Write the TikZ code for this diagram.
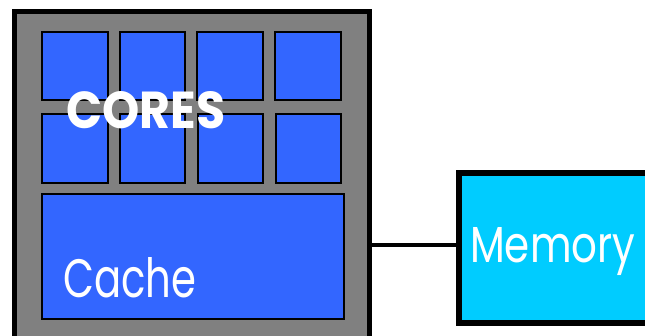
\documentclass[tikz,border=0pt]{standalone}
\usepackage{fontspec}
\setmainfont{Poppins}
\usepackage{graphicx}
\definecolor{coreblue}{HTML}{3366FF}
\definecolor{chipgray}{HTML}{808080}
\definecolor{memcyan}{HTML}{00CCFF}
\begin{document}
\begin{tikzpicture}[x=1pt,y=-1pt,
  corebox/.style={draw=black,line width=1.6pt,fill=coreblue},
  lbl/.style={text=white,inner sep=0pt,anchor=base west}]
\useasboundingbox (0,0) rectangle (645,335);
\begin{scope}
\clip (0,0) rectangle (645,335);
% chip
\draw[draw=black,line width=5.5pt,fill=chipgray] (14.5,11.5) rectangle (369.5,345);
\coordinate (chipE) at (369.5,244.5);
% cores
\node[corebox,minimum width=66pt,minimum height=68pt,anchor=north west,inner sep=0pt] (c1) at (41,31) {};
\node[corebox,minimum width=65pt,minimum height=68pt,anchor=north west,inner sep=0pt] (c2) at (119,31) {};
\node[corebox,minimum width=66pt,minimum height=68pt,anchor=north west,inner sep=0pt] (c3) at (196,31) {};
\node[corebox,minimum width=66pt,minimum height=68pt,anchor=north west,inner sep=0pt] (c4) at (274,31) {};
\node[corebox,minimum width=66pt,minimum height=69pt,anchor=north west,inner sep=0pt] (c5) at (41,113) {};
\node[corebox,minimum width=65pt,minimum height=69pt,anchor=north west,inner sep=0pt] (c6) at (119,113) {};
\node[corebox,minimum width=65pt,minimum height=69pt,anchor=north west,inner sep=0pt] (c7) at (197,113) {};
\node[corebox,minimum width=65pt,minimum height=69pt,anchor=north west,inner sep=0pt] (c8) at (275,113) {};
% cache
\node[corebox,minimum width=302pt,minimum height=125pt,anchor=north west,inner sep=0pt] (cache) at (41,193) {};
% memory
\node[draw=black,line width=6pt,fill=memcyan,minimum width=200pt,minimum height=150pt,anchor=north west,inner sep=0pt] (mem) at (456,170) {};
\draw[line width=4pt] (chipE) -- (mem.west |- chipE);
% labels
\node[lbl] (cores) at (66,128) {\resizebox{159pt}{37pt}{\bfseries CORES}};
\node[lbl] (cachelbl) at (63,297) {\resizebox{133pt}{40pt}{Cache}};
\node[lbl] (memlbl) at (470,262) {\resizebox{165pt}{35pt}{Memory}};
\end{scope}
\end{tikzpicture}
\end{document}
